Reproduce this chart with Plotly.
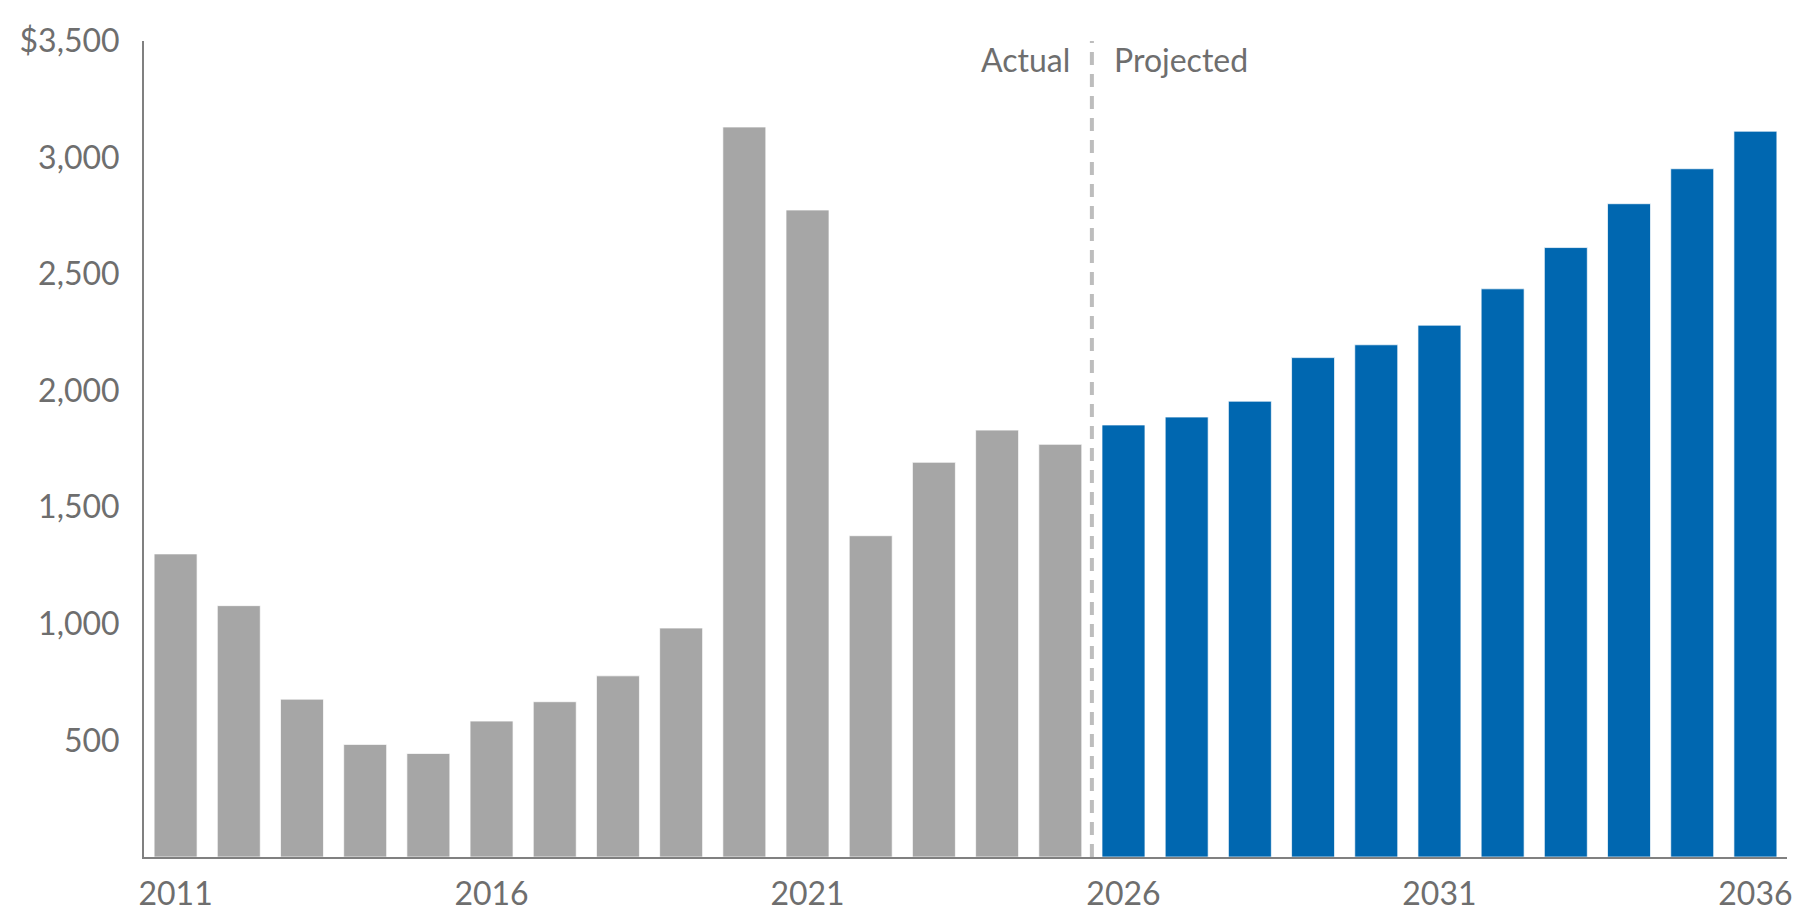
import plotly.graph_objects as go

actual_years = list(range(2011, 2026))
actual_values = [1300, 1078, 677, 483, 444, 583, 666, 777, 982, 3131, 2775, 1378, 1693, 1831, 1770]
projected_years = list(range(2026, 2037))
projected_values = [1853, 1887, 1955, 2142, 2197, 2281, 2437, 2614, 2802, 2952, 3113]
x_tick_vals = [2011, 2016, 2021, 2026, 2031, 2036]
y_tick_vals = [500, 1000, 1500, 2000, 2500, 3000, 3500]
y_tick_text = ["500", "1,000", "1,500", "2,000", "2,500", "3,000", "$3,500"]
divider_x = 2025.5
label_actual = "Actual"
label_projected = "Projected"

FONT = "Lato, 'Open Sans', sans-serif"
TXT = "#6e6e6e"
FS = 32

fig = go.Figure()
fig.add_trace(go.Bar(x=actual_years, y=actual_values, width=0.68,
                     marker=dict(color="#a6a6a6", line=dict(color="rgba(255,255,255,0.7)", width=1)),
                     showlegend=False, hoverinfo="skip"))
fig.add_trace(go.Bar(x=projected_years, y=projected_values, width=0.68,
                     marker=dict(color="#0067b0", line=dict(color="rgba(255,255,255,0.7)", width=1)),
                     showlegend=False, hoverinfo="skip"))

fig.add_shape(type="line", xref="x", yref="y", x0=divider_x, x1=divider_x, y0=0, y1=3500,
              line=dict(color="#bdbdbd", width=4, dash="13px,9px"))

fig.add_annotation(x=divider_x, y=3420, xref="x", yref="y", text=label_actual, showarrow=False,
                   xanchor="right", yanchor="middle", xshift=-20,
                   font=dict(family=FONT, size=FS, color=TXT))
fig.add_annotation(x=divider_x, y=3420, xref="x", yref="y", text=label_projected, showarrow=False,
                   xanchor="left", yanchor="middle", xshift=20,
                   font=dict(family=FONT, size=FS, color=TXT))

fig.update_layout(
    width=1803, height=916,
    margin=dict(l=129, r=24, t=24, b=51),
    plot_bgcolor="white", paper_bgcolor="white",
    font=dict(family=FONT, size=FS, color=TXT),
    xaxis=dict(range=[2010.5, 2036.5], tickmode="array", tickvals=x_tick_vals,
               ticktext=[str(v) for v in x_tick_vals],
               showgrid=False, zeroline=False, showline=True, linecolor="#808080", linewidth=2,
               ticks="", ticklabelstandoff=8,
               tickfont=dict(family=FONT, size=FS, color=TXT)),
    yaxis=dict(range=[0, 3500], tickmode="array", tickvals=y_tick_vals, ticktext=y_tick_text,
               showgrid=False, zeroline=False, showline=True, linecolor="#808080", linewidth=2,
               ticks="", ticklabelstandoff=16,
               tickfont=dict(family=FONT, size=FS, color=TXT)),
)

fig.write_html("out.html")
